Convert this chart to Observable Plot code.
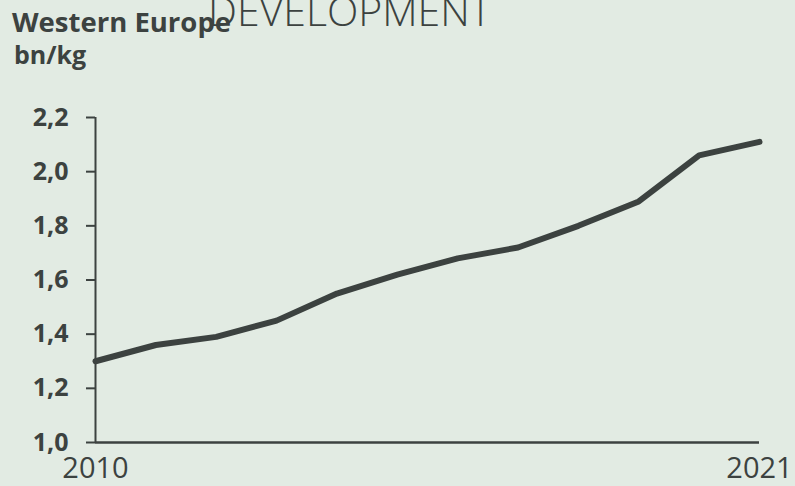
<!DOCTYPE html>
<html>
<head>
<meta charset="utf-8">
<script src="https://cdn.jsdelivr.net/npm/d3@7"></script>
<script src="https://cdn.jsdelivr.net/npm/@observablehq/plot@0.6"></script>
<style>
  html, body { margin: 0; padding: 0; background: #e2ebe3; }
  #wrap { position: relative; width: 795px; height: 486px; overflow: hidden; font-family: "Open Sans", sans-serif; color: #3c4240; }
  .t { position: absolute; white-space: nowrap; line-height: 1; }
  #title { left: 12px; top: 8px; font-size: 27.5px; font-weight: 700; }
  #dev { left: 208px; top: -10px; font-size: 41px; font-weight: 300; }
  #unit { left: 14px; top: 42px; font-size: 25px; font-weight: 700; }
</style>
</head>
<body>
<div id="wrap">
  <div id="chart"></div>
  <div class="t" id="title">Western Europe</div>
  <div class="t" id="dev">DEVELOPMENT</div>
  <div class="t" id="unit">bn/kg</div>
</div>
<script>
const years = [2010, 2011, 2012, 2013, 2014, 2015, 2016, 2017, 2018, 2019, 2020, 2021];
const values = [1.30, 1.36, 1.39, 1.45, 1.55, 1.62, 1.68, 1.72, 1.80, 1.89, 2.06, 2.11];
const yTicks = [1.0, 1.2, 1.4, 1.6, 1.8, 2.0, 2.2];
const xTicks = [2010, 2021];

const data = years.map((y, i) => ({year: y, value: values[i]}));
const ink = "#3c4240";

const chart = Plot.plot({
  width: 795,
  height: 486,
  marginTop: 117,
  marginBottom: 44,
  marginLeft: 95,
  marginRight: 36,
  style: {background: "#e2ebe3", fontFamily: "Open Sans, sans-serif", color: ink},
  x: {domain: [2010, 2021]},
  y: {domain: [1.0, 2.2]},
  marks: [
    Plot.axisY({ticks: yTicks, tickSize: 9, tickPadding: 18, tickFormat: d => d.toFixed(1).replace(".", ","),
      fontSize: 25, fontWeight: 700, stroke: ink, strokeWidth: 2, label: null}),
    Plot.axisX({ticks: xTicks, tickSize: 0, tickPadding: 15, tickFormat: d => String(d),
      fontSize: 29, label: null}),
    Plot.ruleX([2010], {y1: 1.0, y2: 2.2, stroke: ink, strokeWidth: 2}),
    Plot.ruleY([1.0], {stroke: ink, strokeWidth: 2.5}),
    Plot.line(data, {x: "year", y: "value", stroke: ink, strokeWidth: 6, strokeLinejoin: "miter"})
  ]
});
document.getElementById("chart").appendChild(chart);
</script>
</body>
</html>
